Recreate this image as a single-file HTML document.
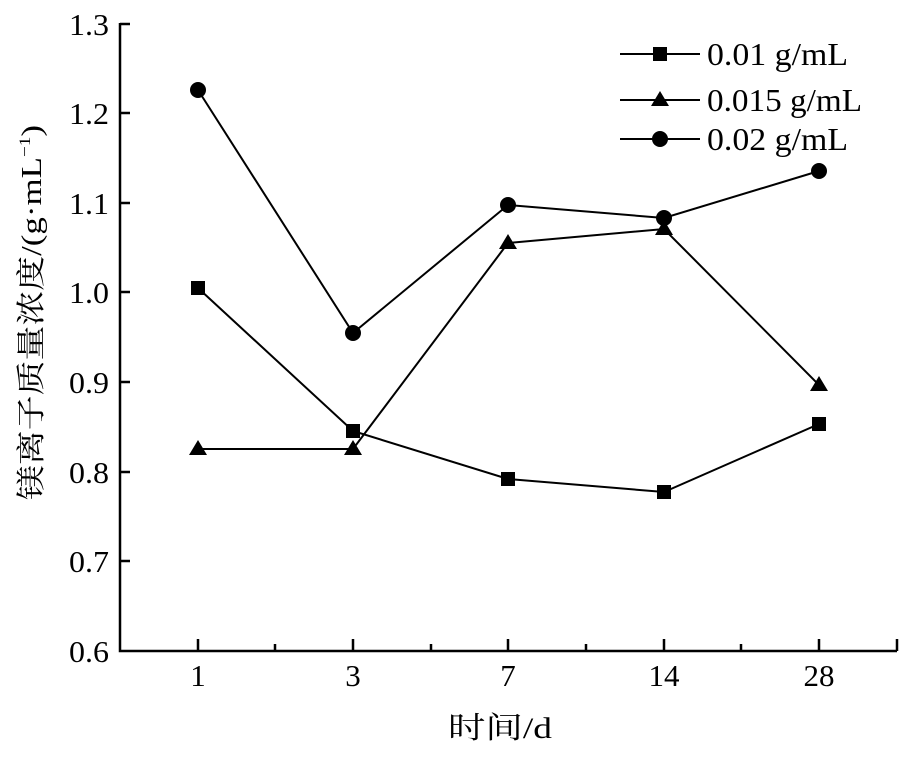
<!DOCTYPE html>
<html><head><meta charset="utf-8"><style>body{margin:0;background:#fff}</style></head><body>
<svg width="900" height="753" xmlns="http://www.w3.org/2000/svg" font-family="'Liberation Serif','Noto Serif CJK SC',serif">
<rect width="900" height="753" fill="#fff"/>
<g stroke="#000" stroke-width="2.5" fill="none">
<path d="M120,23 V651 H897"/>
<path d="M120,24 h10 M120,113 h10 M120,203 h10 M120,292 h10 M120,382 h10 M120,472 h10 M120,561 h10"/>
<path d="M198,651 v-12 M353,651 v-12 M508,651 v-12 M664,651 v-12 M819,651 v-12 M897,651 v-12"/>
<path d="M275,651 v-7 M431,651 v-7 M586,651 v-7 M741,651 v-7"/>
</g>
<g font-size="31" fill="#000">
<text x="69" y="35" textLength="40" lengthAdjust="spacingAndGlyphs">1.3</text>
<text x="69" y="124" textLength="40" lengthAdjust="spacingAndGlyphs">1.2</text>
<text x="69" y="214" textLength="40" lengthAdjust="spacingAndGlyphs">1.1</text>
<text x="69" y="303" textLength="40" lengthAdjust="spacingAndGlyphs">1.0</text>
<text x="69" y="393" textLength="40" lengthAdjust="spacingAndGlyphs">0.9</text>
<text x="69" y="483" textLength="40" lengthAdjust="spacingAndGlyphs">0.8</text>
<text x="69" y="572" textLength="40" lengthAdjust="spacingAndGlyphs">0.7</text>
<text x="69" y="662" textLength="40" lengthAdjust="spacingAndGlyphs">0.6</text>
</g>
<g font-size="31" text-anchor="middle" fill="#000">
<text x="198" y="686">1</text><text x="353" y="686">3</text><text x="508" y="686">7</text><text x="664" y="686">14</text><text x="819" y="686">28</text>
</g>
<text x="448" y="738" font-size="30" textLength="104" lengthAdjust="spacingAndGlyphs" fill="#000">时间/d</text>
<text transform="translate(41,500) rotate(-90)" font-size="29" textLength="375" lengthAdjust="spacingAndGlyphs" fill="#000">镁离子质量浓度/(g·mL<tspan font-size="16" dy="-11">−1</tspan><tspan dy="11">)</tspan></text>
<g stroke="#000" stroke-width="2" fill="none">
<polyline points="198,288 353,431 508,479 664,492 819,424"/>
<polyline points="198,449 353,449 508,243 664,229 819,385"/>
<polyline points="198,90 353,333 508,205 664,218 819,171"/>
<path d="M620,54 h80 M620,100 h80 M620,139 h80"/>
</g>
<g fill="#000">
<rect x="191" y="281" width="14" height="14"/><rect x="346" y="424" width="14" height="14"/><rect x="501" y="472" width="14" height="14"/><rect x="657" y="485" width="14" height="14"/><rect x="812" y="417" width="14" height="14"/>
<path d="M198,440 l9,15 h-18z M353,440 l9,15 h-18z M508,234 l9,15 h-18z M664,220 l9,15 h-18z M819,376 l9,15 h-18z"/>
<circle cx="198" cy="90" r="8"/><circle cx="353" cy="333" r="8"/><circle cx="508" cy="205" r="8"/><circle cx="664" cy="218" r="8"/><circle cx="819" cy="171" r="8"/>
<rect x="653" y="47" width="14" height="14"/>
<path d="M660,91 l9,15 h-18z"/>
<circle cx="660" cy="139" r="8"/>
</g>
<g font-size="32" fill="#000">
<text x="707" y="65" textLength="141" lengthAdjust="spacingAndGlyphs">0.01 g/mL</text>
<text x="707" y="111" textLength="155" lengthAdjust="spacingAndGlyphs">0.015 g/mL</text>
<text x="707" y="150" textLength="141" lengthAdjust="spacingAndGlyphs">0.02 g/mL</text>
</g>
</svg>
</body></html>
